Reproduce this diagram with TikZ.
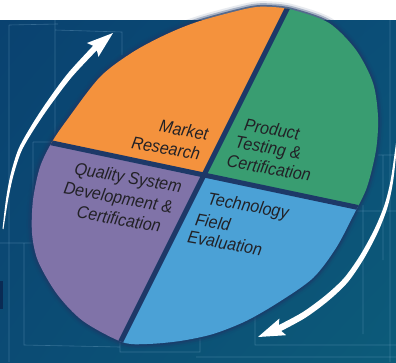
\documentclass[tikz,border=0pt]{standalone}
\usepackage{fontspec}
\usetikzlibrary{calc,shadings}
\newfontfamily\labfont{Liberation Sans}[FakeStretch=0.92]
\definecolor{bgA}{HTML}{0A4270}
\definecolor{bgB}{HTML}{0B4E77}
\definecolor{bgC}{HTML}{0B4B74}
\definecolor{bgD}{HTML}{0C5B79}
\definecolor{edgeblob}{HTML}{0A2B54}
\definecolor{pieorange}{HTML}{F4923D}
\definecolor{piegreen}{HTML}{399D71}
\definecolor{piepurple}{HTML}{8073A8}
\definecolor{pieblue}{HTML}{4BA1D6}
\definecolor{gapnavy}{HTML}{1D3968}
\definecolor{textdark}{HTML}{222126}
\definecolor{gridline}{HTML}{7FB0D0}
\newcommand\pieoutline{plot[smooth cycle] coordinates {
  (52,142) (67,120) (100,77) (133,52) (167,34) (200,21) (250,8) (272,7)
  (293,10) (329,23) (356,50) (373,83) (378,117) (376,150) (367,187)
  (354,214) (336,248) (313,278) (279,302) (246,321) (213,334) (180,341)
  (147,344) (122,342) (83,321) (57,294) (38,261) (32,233) (33,200) (40,167)}}
\begin{document}
\begin{tikzpicture}[x=1pt,y=-1pt,
  pietext/.style={font=\labfont\itshape\fontsize{17.5}{20}\selectfont,
    text=textdark, rotate=-10, inner sep=0pt},
  faint/.style={draw=gridline, opacity=0.35, line width=0.6pt},
  gap/.style={draw=gapnavy, line width=5pt}]
\useasboundingbox (0,0) rectangle (396,362);

% page band and blueprint background
\fill[white] (0,0) rectangle (396,20);
\shade[upper left=bgA, upper right=bgB, lower left=bgC, lower right=bgD]
  (0,20) rectangle (396,362);
\fill[edgeblob] (0,281) rectangle (3,309);

% faint drafting lines
\draw[faint] (9,25) -- (58,24) (9,25) -- (9,362)
  (55,20) -- (55,140) (55,30) -- (122,32) -- (122,55)
  (33,142) -- (52,142) (33,142) -- (33,243) (0,243) -- (33,243)
  (24,243) -- (24,345) -- (120,347) (120,340) -- (120,352) -- (200,352) -- (200,337)
  (255,313) -- (255,345) -- (396,345) (196,357) -- (396,357)
  (363,205) -- (363,334) (355,211) -- (396,211)
  (390,20) -- (390,362) (378,155) -- (396,155) (383,155) -- (383,260);

% soft shadow round the pie
\draw[gapnavy, opacity=0.1, line width=11pt] \pieoutline;
\draw[gapnavy, opacity=0.3, line width=7pt] \pieoutline;
\draw[gapnavy, opacity=0.6, line width=3.5pt] \pieoutline;

% pie centre and divider ends
\coordinate (c) at (204,175);
\coordinate (wl) at (-90,113);
\coordinate (er) at (498,237);
\coordinate (nt) at (338,-93);
\coordinate (sb) at (70,443);

\begin{scope}
  \clip \pieoutline;
  \fill[pieorange] (c) -- (wl) -- (-200,-200) -- (nt) -- cycle;
  \fill[piegreen] (c) -- (nt) -- (600,-200) -- (er) -- cycle;
  \fill[pieblue] (c) -- (er) -- (600,600) -- (sb) -- cycle;
  \fill[piepurple] (c) -- (sb) -- (-200,600) -- (wl) -- cycle;
  \draw[gap] (wl) -- (er);
  \draw[gap] (nt) -- (sb);
\end{scope}

% slice labels
\node[pietext] (mk1) at (184,130) {Market};
\node[pietext] (mk2) at (166,148) {Research};
\node[pietext] (pt1) at (272,129) {Product};
\node[pietext] (pt2) at (268,149) {Testing \&};
\node[pietext] (pt3) at (269,168) {Certification};
\node[pietext] (qs1) at (128,179) {Quality System};
\node[pietext] (qs2) at (118,199) {Development \&};
\node[pietext] (qs3) at (119,219) {Certification};
\node[pietext] (tf1) at (248,207) {Technology};
\node[pietext] (tf2) at (213,222) {Field};
\node[pietext] (tf3) at (225,243) {Evaluation};

% left cycle arrow (tapered shaft, pointed head)
\coordinate (la0) at (3,229);
\coordinate (la1) at (7,200);
\coordinate (la2) at (12,175);
\coordinate (la3) at (20,150);
\coordinate (la4) at (33,127);
\coordinate (la5) at (49,103);
\coordinate (la6) at (70,75);
\coordinate (la7) at (95,48);
\coordinate (lat) at (113,33);
\foreach \i/\j/\w in {0/1/0.5,1/2/1.1,2/3/1.5,3/4/1.8,4/5/2.1,5/6/2.4,6/7/2.7,7/t/2.9}{
  \coordinate (lo\i) at ($(la\i)!\w pt!90:(la\j)$);
  \coordinate (li\i) at ($(la\i)!\w pt!-90:(la\j)$);
}
\coordinate (lhb) at ($(la7)!-3pt!(lat)$);
\coordinate (lbo) at ($(lhb)!9pt!90:(lat)$);
\coordinate (lbi) at ($(lhb)!9pt!-90:(lat)$);
\fill[white] plot[smooth] coordinates {(lo0) (lo1) (lo2) (lo3) (lo4) (lo5) (lo6) (lo7)}
  -- (lbo) -- (lat) -- (lbi)
  -- plot[smooth] coordinates {(li7) (li6) (li5) (li4) (li3) (li2) (li1) (li0)} -- cycle;

% right cycle arrow
\coordinate (ra0) at (397,140);
\coordinate (ra1) at (392,180);
\coordinate (ra2) at (386,206);
\coordinate (ra3) at (376,231);
\coordinate (ra4) at (362,257);
\coordinate (ra5) at (346,280);
\coordinate (ra6) at (327,298);
\coordinate (ra7) at (304,315);
\coordinate (ra8) at (280,328);
\coordinate (rat) at (258,337);
\foreach \i/\j/\w in {0/1/0.6,1/2/1.3,2/3/1.8,3/4/2.2,4/5/2.5,5/6/2.8,6/7/3.0,7/8/3.1,8/t/3.2}{
  \coordinate (ro\i) at ($(ra\i)!\w pt!90:(ra\j)$);
  \coordinate (ri\i) at ($(ra\i)!\w pt!-90:(ra\j)$);
}
\coordinate (rhb) at ($(ra8)!-3pt!(rat)$);
\coordinate (rbo) at ($(rhb)!9pt!90:(rat)$);
\coordinate (rbi) at ($(rhb)!9pt!-90:(rat)$);
\fill[white] plot[smooth] coordinates {(ro0) (ro1) (ro2) (ro3) (ro4) (ro5) (ro6) (ro7) (ro8)}
  -- (rbo) -- (rat) -- (rbi)
  -- plot[smooth] coordinates {(ri8) (ri7) (ri6) (ri5) (ri4) (ri3) (ri2) (ri1) (ri0)} -- cycle;
\end{tikzpicture}
\end{document}
